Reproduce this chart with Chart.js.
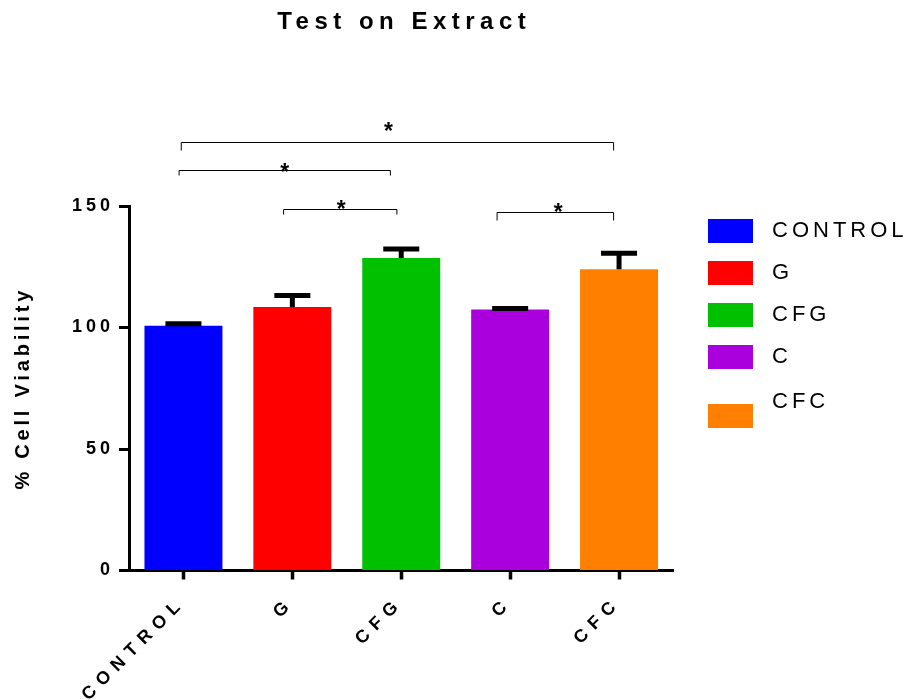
<!DOCTYPE html>
<html>
<head>
<meta charset="utf-8">
<script src="https://cdn.jsdelivr.net/npm/chart.js@4/dist/chart.umd.min.js"></script>
<style>
  body { margin: 0; background: #fff; }
</style>
</head>
<body>
<canvas id="chart" width="908" height="700"></canvas>
<script>
const groups = ['CONTROL', 'G', 'CFG', 'C', 'CFC']
const viability = [100.7, 108.4, 128.6, 107.4, 124.0]
const sem = [0.8, 4.8, 3.7, 0.4, 6.6]
const barColors = ['#0000FF', '#FF0000', '#00C000', '#AA00DD', '#FF8000']
const yTicks = [0, 50, 100, 150]

// significance brackets (positions in category units, level in % viability)
const bracketFrom = [-0.02, -0.04, 0.92, 2.88]
const bracketTo = [3.95, 1.90, 1.96, 3.95]
const bracketLevel = [176.5, 164.7, 148.9, 147.4]
const bracketMark = ['*', '*', '*', '*']

const FONT = '"Liberation Sans", Arial, sans-serif'

function spaced(fn, sp) {
  return function (...args) {
    const ctx = this.ctx
    const old = ctx.letterSpacing
    ctx.letterSpacing = sp
    fn.apply(this, args)
    ctx.letterSpacing = old
  }
}

const extras = {
  id: 'extras',
  afterLayout(chart) {
    const x = chart.scales.x
    const y = chart.scales.y
    if (!x._spaced) {
      x.drawLabels = spaced(x.drawLabels, '7px')
      x._spaced = true
    }
    if (!y._spaced) {
      y.drawLabels = spaced(y.drawLabels, '4px')
      y.drawTitle = spaced(y.drawTitle, '3.8px')
      y._spaced = true
    }
  },
  afterDatasetsDraw(chart) {
    const { ctx } = chart
    const x = chart.scales.x
    const y = chart.scales.y
    ctx.save()
    // error bars (upper only)
    ctx.strokeStyle = '#000'
    ctx.lineWidth = 5
    ctx.lineCap = 'butt'
    viability.forEach((v, i) => {
      const px = x.getPixelForValue(i)
      const top = y.getPixelForValue(v + sem[i])
      const base = y.getPixelForValue(v)
      ctx.beginPath()
      ctx.moveTo(px, base)
      ctx.lineTo(px, top)
      ctx.moveTo(px - 18, top)
      ctx.lineTo(px + 18, top)
      ctx.stroke()
    })
    ctx.restore()
  },
  afterDraw(chart) {
    const { ctx, chartArea } = chart
    const x = chart.scales.x
    const y = chart.scales.y
    ctx.save()

    // title
    ctx.fillStyle = '#000'
    ctx.letterSpacing = '5.5px'
    ctx.font = 'bold 24px ' + FONT
    ctx.textAlign = 'center'
    ctx.textBaseline = 'middle'
    ctx.fillText('Test on Extract', (chartArea.left + chartArea.right) / 2 + 3, 22)

    // brackets
    const tips = [8, 5, 5, 8]
    const starGap = [3.5, -9, -7.5, -7.5]
    const starShift = [-9, 0, 1, 3]
    ctx.letterSpacing = '0px'
    ctx.lineWidth = 1
    ctx.strokeStyle = '#000'
    bracketLevel.forEach((lv, i) => {
      const x1 = x.getPixelForValue(bracketFrom[i])
      const x2 = x.getPixelForValue(bracketTo[i])
      const py = Math.round(y.getPixelForValue(lv)) + 0.5
      ctx.beginPath()
      ctx.moveTo(x1, py + tips[i])
      ctx.lineTo(x1, py)
      ctx.lineTo(x2, py)
      ctx.lineTo(x2, py + tips[i])
      ctx.stroke()
      ctx.font = 'bold 23px ' + FONT
      ctx.textAlign = 'center'
      ctx.textBaseline = 'alphabetic'
      ctx.fillText(bracketMark[i], (x1 + x2) / 2 + starShift[i], py - starGap[i])
    })

    // legend
    const boxTops = [219, 261, 303, 345, 404]
    const textMid = [231, 273, 315, 357, 402]
    ctx.font = '22px ' + FONT
    ctx.letterSpacing = '4px'
    ctx.textAlign = 'left'
    ctx.textBaseline = 'middle'
    groups.forEach((g, i) => {
      ctx.fillStyle = barColors[i]
      ctx.fillRect(708, boxTops[i], 45, 24)
      ctx.fillStyle = '#000'
      ctx.fillText(g, 772, textMid[i])
    })
    ctx.restore()
  }
}

new Chart(document.getElementById('chart'), {
  type: 'bar',
  data: {
    labels: groups,
    datasets: [{
      label: '% Cell Viability',
      data: viability,
      backgroundColor: barColors,
      borderWidth: 0,
      barPercentage: 0.716,
      categoryPercentage: 1
    }]
  },
  options: {
    responsive: false,
    animation: false,
    devicePixelRatio: 1,
    layout: { padding: { top: 206, right: 234.5, bottom: 0, left: 8 } },
    plugins: {
      legend: { display: false },
      title: { display: false },
      tooltip: { enabled: false }
    },
    scales: {
      x: {
        offset: true,
        afterFit: (s) => { s.height = 129.5 },
        grid: { drawOnChartArea: false, offset: false, tickLength: 9, tickWidth: 3.5, tickColor: '#000' },
        border: { display: true, color: '#000', width: 3 },
        ticks: {
          color: '#000',
          font: { family: FONT, size: 18, weight: 'bold' },
          minRotation: 45,
          maxRotation: 45,
          padding: 13,
          labelOffset: -1
        }
      },
      y: {
        min: 0,
        max: 150,
        afterFit: (s) => { s.width = 121 },
        afterBuildTicks: (s) => { s.ticks = yTicks.map(v => ({ value: v })) },
        grid: { drawOnChartArea: false, tickLength: 10, tickWidth: 3, tickColor: '#000' },
        border: { display: true, color: '#000', width: 3 },
        ticks: {
          color: '#000',
          padding: 5,
          font: { family: FONT, size: 18, weight: 'bold' }
        },
        title: {
          display: true,
          text: '% Cell Viability',
          color: '#000',
          padding: { top: 3, bottom: 4 },
          font: { family: FONT, size: 20, weight: 'bold' }
        }
      }
    }
  },
  plugins: [extras]
})
</script>
</body>
</html>
